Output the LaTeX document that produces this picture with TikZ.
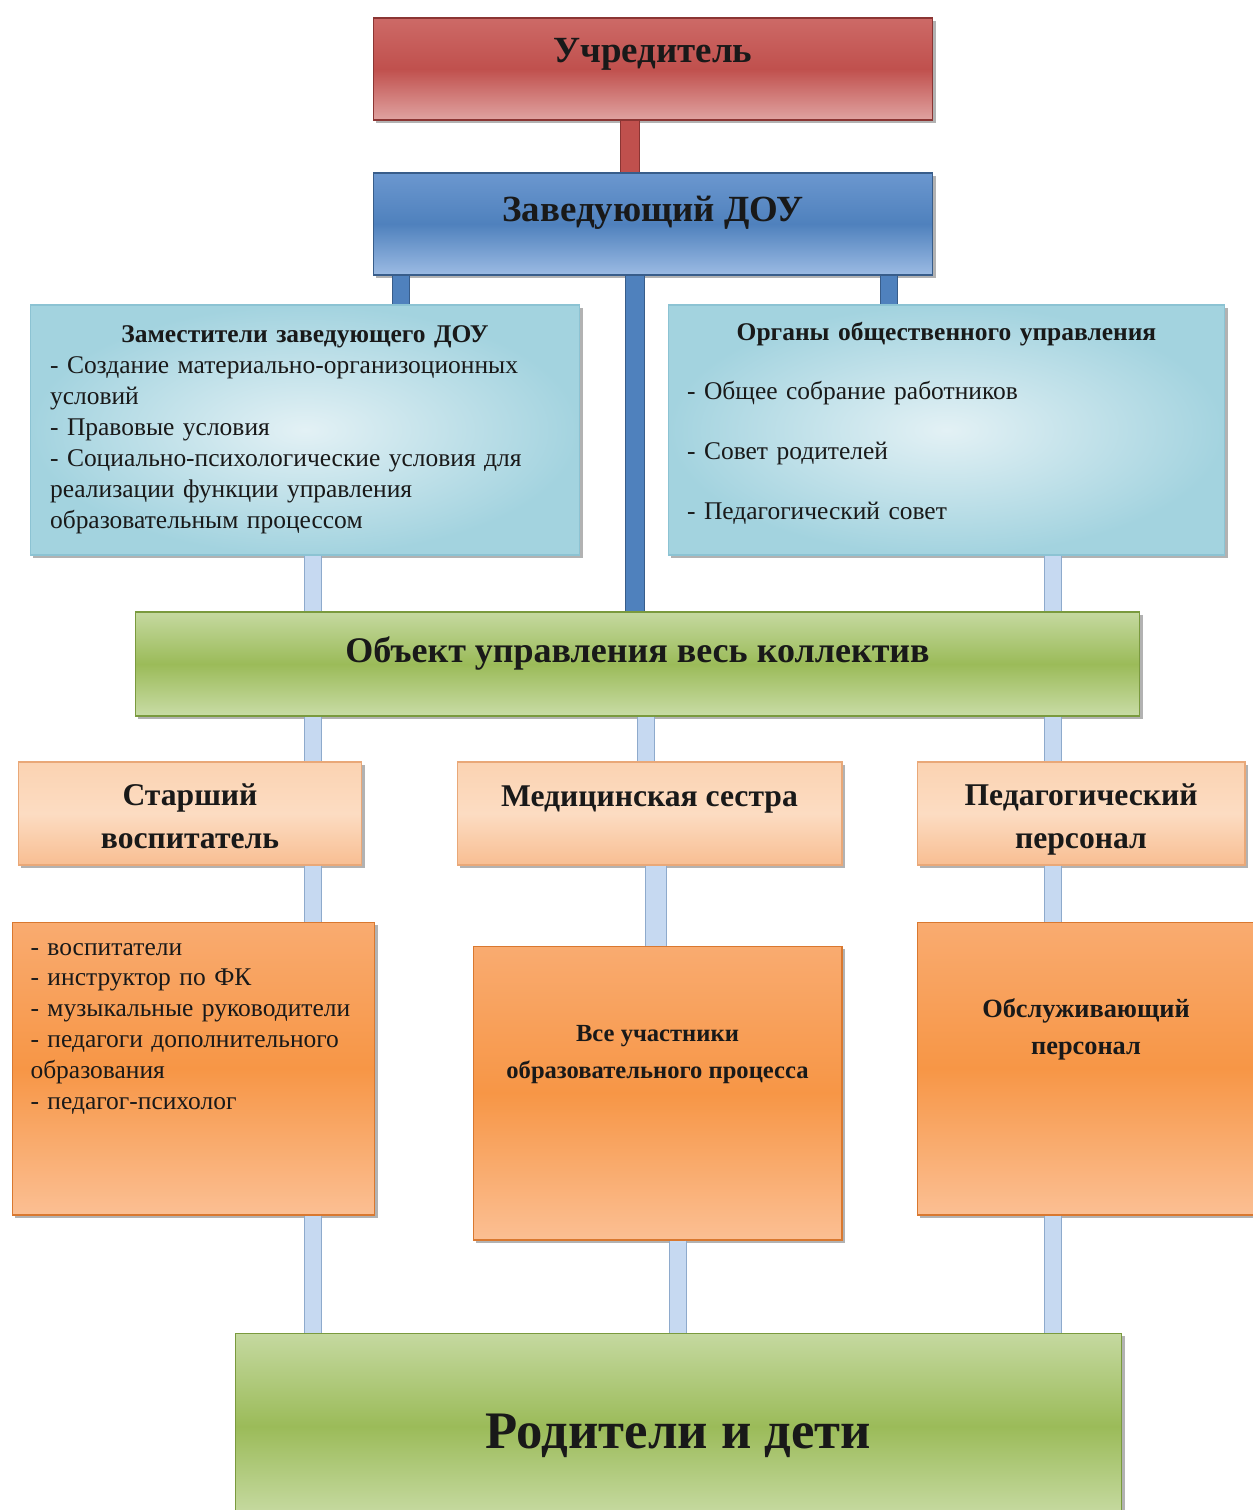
\documentclass[tikz,border=0pt]{standalone}
\usepackage{fontspec}
\setmainfont{Liberation Serif}
\usetikzlibrary{shadows}
\setlength\parindent{0pt}

\definecolor{redT}{HTML}{CD6A67}
\definecolor{redM}{HTML}{C0504D}
\definecolor{redB}{HTML}{E0A3A1}
\definecolor{redE}{HTML}{8B3533}
\definecolor{bluT}{HTML}{6B97CF}
\definecolor{bluM}{HTML}{4F81BD}
\definecolor{bluB}{HTML}{9CBBE3}
\definecolor{bluE}{HTML}{385D8A}
\definecolor{cyaI}{HTML}{E3F1F5}
\definecolor{cyaO}{HTML}{A3D3DF}
\definecolor{cyaE}{HTML}{8CC3D3}
\definecolor{grnT}{HTML}{C5D9A0}
\definecolor{grnM}{HTML}{9BBB59}
\definecolor{grnB}{HTML}{C9DCA6}
\definecolor{grnE}{HTML}{7A9A3E}
\definecolor{pchT}{HTML}{FBD3B2}
\definecolor{pchM}{HTML}{FCDCC2}
\definecolor{pchB}{HTML}{F8BE92}
\definecolor{pchE}{HTML}{E9A878}
\definecolor{orgT}{HTML}{F9AB70}
\definecolor{orgM}{HTML}{F79646}
\definecolor{orgB}{HTML}{FBBF93}
\definecolor{orgE}{HTML}{D9782F}
\definecolor{barF}{HTML}{C6D9F1}
\definecolor{barE}{HTML}{8EAACC}

\tikzset{
  box/.style={draw, line width=0.6pt, inner sep=0pt, text=black!90,
    drop shadow={shadow xshift=1.5pt, shadow yshift=-1.5pt, opacity=0.6}},
  redbox/.style={box, draw=redE, top color=redT, bottom color=redB, middle color=redM},
  blubox/.style={box, draw=bluE, top color=bluT, bottom color=bluB, middle color=bluM},
  cyabox/.style={box, draw=cyaE, inner color=cyaI, outer color=cyaO},
  grnbox/.style={box, draw=grnE, top color=grnT, bottom color=grnB, middle color=grnM},
  pchbox/.style={box, draw=pchE, top color=pchT, bottom color=pchB, middle color=pchM},
  orgbox/.style={box, draw=orgE, top color=orgT, bottom color=orgB, middle color=orgM},
  bar/.style={line width=0.8pt, double distance=9pt},
  rbar/.style={bar, draw=redE, double=redM, double distance=10pt},
  bbar/.style={bar, draw=bluE, double=bluM},
  lbar/.style={bar, draw=barE, double=barF},
  bigtxt/.style={font=\fontsize{21}{25}\selectfont\bfseries},
  midtxt/.style={font=\fontsize{18}{24.4}\selectfont\bfseries, align=center},
  lsttxt/.style={font=\fontsize{14.5}{17.6}\selectfont, align=left}
}

\begin{document}
\begin{tikzpicture}[x=0.02cm, y=-0.02cm]

  \fill[white] (0,0) rectangle (1252,1510);
  \useasboundingbox (0,0) rectangle (1252,1510);

  %% top
  \node[redbox, bigtxt, minimum width=11.2cm, minimum height=2.04cm,
    text height=0.5cm, text depth=0.74cm] (uchr) at (653,69) {Учредитель};
  \node[blubox, bigtxt, minimum width=11.2cm, minimum height=2.04cm,
    text height=0.5cm, text depth=0.58cm] (zav) at (653,224) {Заведующий ДОУ};

  \node[cyabox, lsttxt, minimum width=11cm, minimum height=5cm, text width=10.2cm] (zam) at (305,430)
    {{\centering\bfseries Заместители заведующего ДОУ\par}
     - Создание материально-организоционных\\ условий\\ - Правовые условия\\
     - Социально-психологические условия для\\ реализации функции управления\\
     образовательным процессом};
  \node[cyabox, lsttxt, minimum width=11.14cm, minimum height=5cm, text width=10.38cm,
    text height=0.34cm, text depth=3.94cm] (org) at (946.5,430)
    {{\centering\bfseries Органы общественного управления\par}\vspace{16.4pt}
     - Общее собрание работников\\[16.4pt] - Совет родителей\\[16.4pt] - Педагогический совет};

  \node[grnbox, font=\fontsize{20.5}{25}\selectfont\bfseries, minimum width=20.1cm, minimum height=2.08cm,
    text height=0.5cm, text depth=0.58cm] (obj) at (637.5,664) {Объект управления весь коллектив};

  %% second row
  \node[pchbox, midtxt, minimum width=6.88cm, minimum height=2.06cm,
    text height=1.5cm, text depth=0.12cm] (star) at (190,813.5) {Старший\\ воспитатель};
  \node[pchbox, midtxt, minimum width=7.7cm, minimum height=2.06cm,
    text height=0.4cm, text depth=0.7cm] (med) at (649.5,813.5) {Медицинская сестра};
  \node[pchbox, midtxt, minimum width=6.56cm, minimum height=2.06cm,
    text height=1.5cm, text depth=0.12cm] (ped) at (1081,813.5) {Педагогический\\ персонал};

  %% third row
  \node[orgbox, lsttxt, minimum width=7.26cm, minimum height=5.86cm, text width=6.52cm,
    text height=0.34cm, text depth=4.88cm] (vosp) at (193.5,1068.5)
    {- воспитатели\\ - инструктор по ФК\\ - музыкальные руководители\\
     - педагоги дополнительного\\ образования\\ - педагог-психолог};
  \node[orgbox, font=\fontsize{14}{21}\selectfont\bfseries, align=center, minimum width=7.38cm, minimum height=5.88cm,
    text height=1.06cm, text depth=1.66cm] (vse) at (657.5,1093) {Все участники\\ образовательного процесса};
  \node[orgbox, font=\fontsize{15}{21}\selectfont\bfseries, align=center, minimum width=6.76cm, minimum height=5.86cm,
    text height=1.08cm, text depth=1.66cm] (obsl) at (1086,1068.5) {Обслуживающий\\ персонал};

  \node[grnbox, font=\fontsize{30}{36}\selectfont\bfseries, minimum width=17.74cm, minimum height=3.74cm,
    text height=0.86cm, text depth=0cm] (rod) at (678.5,1426.5) {Родители и дети};

  %% bar positions
  \coordinate (xr) at (630,0);
  \coordinate (xb1) at (401,0);
  \coordinate (xb2) at (635,0);
  \coordinate (xb3) at (889,0);
  \coordinate (xl1) at (313,0);
  \coordinate (xl2) at (646,0);
  \coordinate (xl3) at (1053,0);
  \coordinate (xm) at (656,0);
  \coordinate (xn) at (678,0);

  \draw[rbar] (uchr.south -| xr) -- (zav.north -| xr); %% uchr->zav
  \draw[bbar] (zav.south -| xb1) -- (zam.north -| xb1);
  \draw[bbar, double distance=10pt] (zav.south -| xb2) -- (obj.north -| xb2);
  \draw[bbar] (zav.south -| xb3) -- (org.north -| xb3);

  \draw[lbar] (zam.south -| xl1) -- (obj.north -| xl1); %% zam->obj
  \draw[lbar] (org.south -| xl3) -- (obj.north -| xl3); %% org->obj

  \draw[lbar] (obj.south -| xl1) -- (star.north -| xl1);
  \draw[lbar] (obj.south -| xl2) -- (med.north -| xl2);
  \draw[lbar] (obj.south -| xl3) -- (ped.north -| xl3);

  \draw[lbar] (star.south -| xl1) -- (vosp.north -| xl1);
  \draw[lbar, double distance=11pt] (med.south -| xm) -- (vse.north -| xm);
  \draw[lbar] (ped.south -| xl3) -- (obsl.north -| xl3);

  \draw[lbar] (vosp.south -| xl1) -- (rod.north -| xl1);
  \draw[lbar] (vse.south -| xn) -- (rod.north -| xn);
  \draw[lbar] (obsl.south -| xl3) -- (rod.north -| xl3);
\end{tikzpicture}
\end{document}
